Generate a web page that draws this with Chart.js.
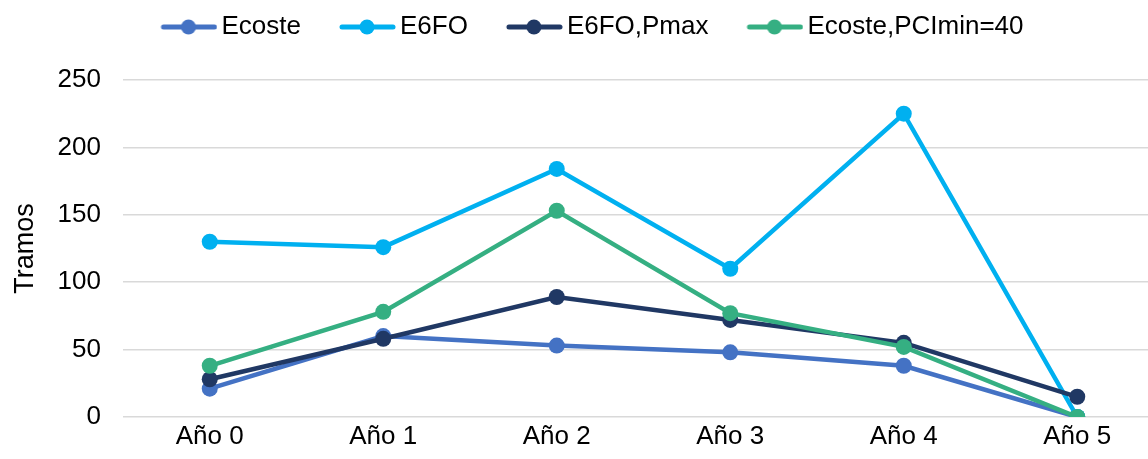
<!DOCTYPE html>
<html>
<head>
<meta charset="utf-8">
<script src="https://cdn.jsdelivr.net/npm/chart.js@4/dist/chart.umd.min.js"></script>
<style>
    html, body { margin: 0; padding: 0; background: #fff; overflow: hidden; }
    #wrap { width: 1172px; height: 459px; position: relative; }
</style>
</head>
<body>
<div id="wrap"><canvas id="chart"></canvas></div>
<script>
// Values
const years = ['Año 0', 'Año 1', 'Año 2', 'Año 3', 'Año 4', 'Año 5'];
const ecoste = [21, 60, 53, 48, 38, 0];
const e6fo = [130, 126, 184, 110, 225, 0];
const e6foPmax = [28, 58, 89, 72, 55, 15];
const ecostePci = [38, 78, 153, 77, 52, 0];
const yTicks = [0, 50, 100, 150, 200, 250];

const FONT = "'Liberation Sans', Arial, sans-serif";

// line + dot image for the legend, transparent room on its left
function legendMark(color) {
    const c = document.createElement('canvas');
    c.width = 90;
    c.height = 18;
    const g = c.getContext('2d');
    g.strokeStyle = color;
    g.lineWidth = 5;
    g.lineCap = 'round';
    g.beginPath();
    g.moveTo(36, 9);
    g.lineTo(87, 9);
    g.stroke();
    g.fillStyle = color;
    g.beginPath();
    g.arc(61, 9, 7.5, 0, Math.PI * 2);
    g.fill();
    return c;
}

// later series sit on top, like the original
function series(label, data, color, order) {
    return {
        label: label,
        data: data,
        order: order,
        borderColor: color,
        backgroundColor: color,
        borderWidth: 4.5,
        pointRadius: 8,
        pointHoverRadius: 8,
        pointBorderWidth: 0,
        pointStyle: 'circle',
        legendMark: legendMark(color),
        tension: 0
    };
}

// extra room under the legend, nudged a bit left
const legendSpace = {
    id: 'legendSpace',
    beforeInit(chart) {
        const fit = chart.legend.fit;
        chart.legend.fit = function () {
            fit.bind(chart.legend)();
            this.height += 30;
        };
    },
    afterLayout(chart) {
        chart.legend.left -= 5;
        chart.legend.right -= 5;
    }
};

const ctx = document.getElementById('chart').getContext('2d');
const chart = new Chart(ctx, {
    type: 'line',
    data: {
        labels: years,
        datasets: [
            series('Ecoste', ecoste, '#4472C4', 4),
            series('E6FO', e6fo, '#00B0F0', 3),
            series('E6FO,Pmax', e6foPmax, '#203864', 2),
            series('Ecoste,PCImin=40', ecostePci, '#35AF82', 1)
        ]
    },
    plugins: [legendSpace],
    options: {
        responsive: true,
        maintainAspectRatio: false,
        animation: false,
        layout: {
            padding: { top: 0, right: 2, left: 0, bottom: 0 }
        },
        plugins: {
            tooltip: { enabled: false },
            legend: {
                position: 'top',
                labels: {
                    usePointStyle: true,
                    pointStyleWidth: 72,
                    padding: 14,
                    color: '#000',
                    font: { family: FONT, size: 26 },
                    generateLabels: function (chart) {
                        return chart.data.datasets.map((ds, i) => ({
                            text: ds.label,
                            fillStyle: ds.borderColor,
                            strokeStyle: ds.borderColor,
                            pointStyle: ds.legendMark,
                            lineWidth: 0,
                            hidden: false,
                            datasetIndex: i
                        }));
                    }
                }
            }
        },
        scales: {
            x: {
                offset: true,
                grid: { display: false },
                border: { display: false },
                afterFit: function (axis) {
                    axis.height = 42;
                },
                ticks: {
                    color: '#000',
                    padding: -4,
                    font: { family: FONT, size: 26 }
                }
            },
            y: {
                min: 0,
                max: 250,
                afterBuildTicks: function (axis) {
                    axis.ticks = yTicks.map(v => ({ value: v }));
                },
                afterFit: function (axis) {
                    axis.width = 123;
                },
                grid: {
                    color: '#D9D9D9',
                    lineWidth: 1.5,
                    drawTicks: false
                },
                border: { display: false },
                title: {
                    display: true,
                    text: 'Tramos',
                    color: '#000',
                    padding: { top: 9, bottom: 0 },
                    font: { family: FONT, size: 27 }
                },
                ticks: {
                    color: '#000',
                    padding: 22,
                    font: { family: FONT, size: 26 }
                }
            }
        }
    }
});
</script>
</body>
</html>
